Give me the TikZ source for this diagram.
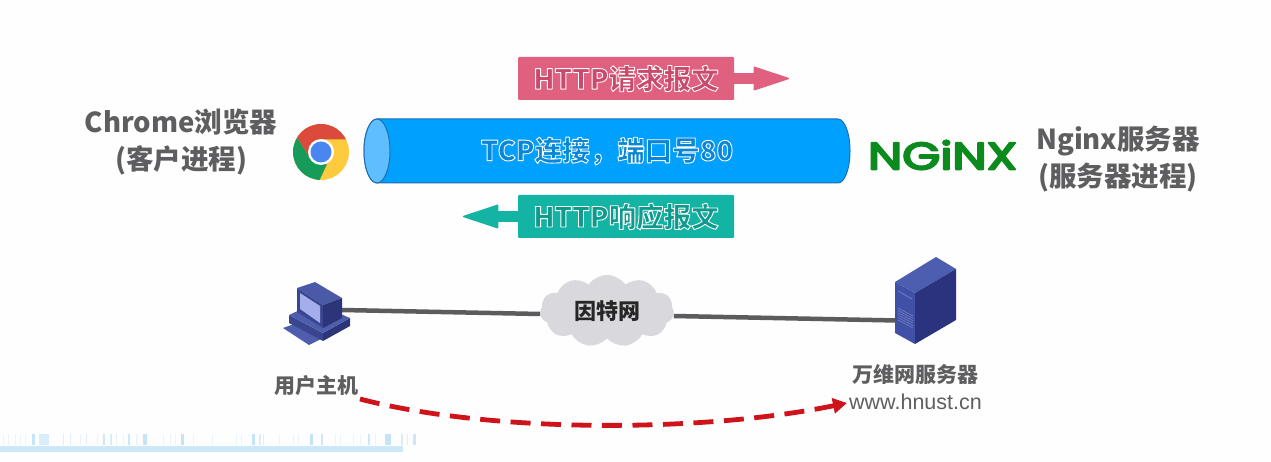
\documentclass[tikz,border=0pt]{standalone}
\usepackage{fontspec}
\setmainfont{Noto Sans CJK SC}
\newfontfamily\latinfont{Liberation Sans}
\newfontfamily\logofont{Poppins}
\newfontfamily\heavyfont{Noto Sans CJK SC Black}
\usetikzlibrary{shapes.symbols,arrows.meta}
\definecolor{pagebg}{HTML}{FEFEFE}
\definecolor{labelgray}{HTML}{5E5E60}
\definecolor{pinkbox}{HTML}{E0607F}
\definecolor{pinktext}{HTML}{C94A6A}
\definecolor{tealbox}{HTML}{14B4A4}
\definecolor{tealtext}{HTML}{0E9A8C}
\definecolor{tubeblue}{HTML}{00A0FF}
\definecolor{tubetext}{HTML}{0A86D6}
\definecolor{tubeedge}{HTML}{1F6FB2}
\definecolor{tubecap}{HTML}{5FBEFF}
\definecolor{cloudgray}{HTML}{D9D9DD}
\definecolor{linkgray}{HTML}{5C5C5E}
\definecolor{dashred}{HTML}{CE141A}
\definecolor{nginxgreen}{HTML}{0B8A1E}
\definecolor{stripblue}{HTML}{CDE9F9}
\definecolor{barblue}{HTML}{BFE2F7}
\definecolor{chromered}{HTML}{DB4A3A}
\definecolor{chromegreen}{HTML}{169B58}
\definecolor{chromeyellow}{HTML}{FFCB3E}
\definecolor{chromeblue}{HTML}{4A86F0}
\definecolor{hosttop}{HTML}{4B5AA6}
\definecolor{hostfront}{HTML}{39468F}
\definecolor{hostside}{HTML}{2C3579}
\definecolor{hostscreen}{HTML}{A3AEEA}
\definecolor{hostbase}{HTML}{4F5DAE}
\definecolor{srvtop}{HTML}{4D5DB0}
\definecolor{srvfront}{HTML}{4050A6}
\definecolor{srvside}{HTML}{2B337F}
\definecolor{srvvent}{HTML}{7480C4}
% text filled in a deep tone of the box colour with a white outline
\newcommand\halotext[2]{{\bfseries\color{#1}\special{pdf:code 2 Tr 0.9 w 1 1 1 RG 1 j}#2}}
\tikzset{
  x=1pt,y=-1pt,
  biglabel/.style={text=labelgray,font=\fontsize{27.5}{37}\selectfont\bfseries,align=center,inner sep=0},
  smalllabel/.style={text=labelgray,font=\fontsize{21}{28}\selectfont\bfseries,inner sep=0},
  msgbox/.style={minimum width=216pt,minimum height=43pt,inner sep=0,rounded corners=1pt,font=\fontsize{27.5}{30}\selectfont},
  msgarrow/.style={line width=11pt,-{Triangle[length=37pt,width=24pt,line width=1.5pt,round]}},
  link/.style={draw=linkgray,line width=4.5pt},
  iconedge/.style={line join=round},
}
\begin{document}
\begin{tikzpicture}
\useasboundingbox (0,0) rectangle (1271,462);
\fill[pagebg] (0,0) rectangle (1271,462);
% bottom strip
\fill[stripblue] (0,446) rectangle (403,452);
\foreach \bx/\bw/\bo in {3/1/.3,8/1/.3,15/1/.3,20/1/.3,25/1/.3,32/3/.9,39/10/.6,63/1/.5,70/1/.5,80/1/.3,86/1/.5,97/1/.3,103/2/.8,110/2/.6,116/1/.4,123/1/.3,128/2/.8,136/2/.3,143/4/.9,163/1/.3,170/1/.3,175/1/.3,181/3/.9,193/1/.3,212/1/.3,236/1/.3,241/1/.3,252/3/.9,259/2/.6,263/1/.5,279/1/.3,293/1/.3,298/1/.3,310/3/.9,321/2/.8,335/1/.3,340/1/.3,353/1/.3,360/1/.3,368/2/.8,375/1/.3,385/6/.9,401/2/.6,407/1/.5,413/3/.8}
  {\fill[barblue,opacity=\bo] (\bx,434) rectangle ++(\bw,11);}
% message boxes
\node[msgbox,fill=pinkbox] (reqbox) at (626,78.5) {\halotext{pinktext}{HTTP请求报文}};
\coordinate (reqtip) at (789,78.5);
\draw[msgarrow,pinkbox] (reqbox.east) -- (reqtip);
\node[msgbox,fill=tealbox] (respbox) at (626,216.5) {\halotext{tealtext}{HTTP响应报文}};
\coordinate (resptip) at (463,216.5);
\draw[msgarrow,tealbox] (respbox.west) -- (resptip);
% tube
\draw[fill=tubeblue,draw=tubeedge,line width=1pt] (377,119) -- (838,119) arc[start angle=-90,end angle=90,x radius=12,y radius=32] -- (377,183) arc[start angle=90,end angle=270,x radius=13,y radius=32] -- cycle;
\draw[fill=tubecap,draw=tubeedge,line width=1pt] (377,151) ellipse[x radius=13,y radius=32];
\node[inner sep=0,font=\fontsize{27.5}{30}\selectfont] (tube) at (607,151) {\halotext{tubetext}{TCP连接，端口号80}};
% chrome icon
\begin{scope}
\clip (321,152) circle[radius=28];
\fill[chromeyellow] (290,120) rectangle (352,184);
\fill[chromegreen] (310,158) -- (293,131) -- (285,140) -- (285,190) -- (315,190) -- (327,164) -- cycle;
\fill[chromered] (321,139.5) -- (352,139.5) -- (352,118) -- (285,118) -- (295,134) -- (310,158) -- cycle;
\end{scope}
\fill[white] (321,152) circle[radius=13];
\fill[chromeblue] (321,152) circle[radius=10.5];
% side labels
\node[biglabel] (chromelabel) at (181,142.5) {Chrome浏览器\\(客户进程)};
\node[biglabel] (nginxlabel) at (1118,159) {Nginx服务器\\(服务器进程)};
\node[inner sep=0,text=nginxgreen] (nginxlogo) at (942.5,155) {\special{pdf:code 2 Tr 0.5 w 0.043 0.541 0.118 RG 1 j}\resizebox{149pt}{29pt}{\logofont NGiNX}};
% host icon
\coordinate (hostport) at (342,310);
\coordinate (srvport) at (897,320.5);
\node[cloud,cloud puffs=11,cloud puff arc=110,aspect=1.9,fill=cloudgray,inner sep=0,minimum width=134pt,minimum height=72pt,font=\fontsize{22}{24}\selectfont\bfseries,text=black!85] (net) at (607,311) {因特网};
\draw[link] (hostport) -- (net.west |- 0,314) ;
\draw[link] (net.east |- 0,316) -- (srvport);
\begin{scope}[iconedge]
\fill[hostbase] (283,328) -- (297,323) -- (323,338) -- (309,345) -- cycle;
\fill[hostfront] (289,315) -- (289,323) -- (323,341) -- (323,333) -- cycle;
\fill[hostside] (323,341) -- (350,326) -- (350,318) -- (323,333) -- cycle;
\fill[hostbase] (289,315) -- (315,303) -- (350,318) -- (323,333) -- cycle;
\fill[hosttop] (297,288) -- (315,282) -- (342,298) -- (323,305) -- cycle;
\fill[hostfront] (297,288) -- (323,305) -- (323,328) -- (297,312) -- cycle;
\fill[hostscreen] (300,293) -- (320,306) -- (320,323) -- (300,309) -- cycle;
\fill[hostside] (323,305) -- (342,298) -- (342,318) -- (323,328) -- cycle;
\end{scope}
% server icon
\begin{scope}[iconedge]
\fill[srvtop] (895,282) -- (936,257) -- (956,269) -- (915,293) -- cycle;
\fill[srvfront] (895,282) -- (915,293) -- (915,344) -- (895,333) -- cycle;
\fill[srvside] (915,293) -- (956,269) -- (956,320) -- (915,344) -- cycle;
\foreach \vy in {0,2.4,...,14}
  \draw[srvvent,line width=.6pt] (898,322-14+\vy) -- (913,330-14+\vy);
\draw[srvvent,line width=.8pt] (898,291) -- (912,299);
\end{scope}
% lower labels
\node[smalllabel] (hostlabel) at (316.5,386) {用户主机};
\node[smalllabel] (srvlabel) at (915,374) {万维网服务器};
\node[inner sep=0,text=labelgray,font=\latinfont\fontsize{21.5}{24}\selectfont] (srvurl) at (915.5,402) {www.hnust.cn};
% dashed request path
\coordinate (pathstart) at (360,399);
\coordinate (pathend) at (847,403);
\draw[dashred,line width=4.8pt,dash pattern=on 20pt off 10.5pt,-{Triangle[length=14pt,width=15pt]}] (pathstart) .. controls (490,433) and (700,433) .. (pathend);
\end{tikzpicture}
\end{document}
